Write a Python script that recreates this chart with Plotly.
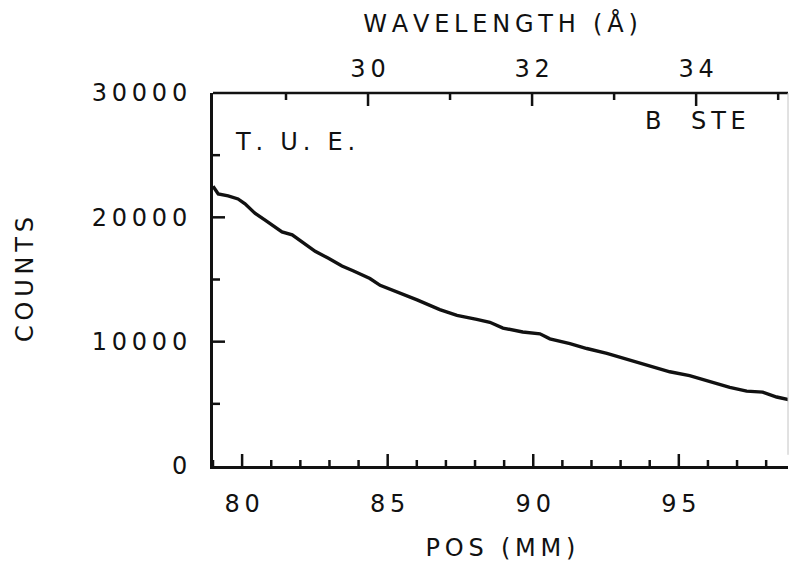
import plotly.graph_objects as go

# Detector scan: counts versus position along the detector (mm)
pos_mm = [79.00, 79.18, 79.52, 79.86, 80.10, 80.45, 80.79, 81.37, 81.72, 82.06,
          82.51, 82.95, 83.43, 83.81, 84.39, 84.74, 85.42, 86.01, 86.79, 87.38,
          88.06, 88.51, 88.96, 89.64, 90.23, 90.57, 91.26, 91.84, 92.53, 93.21,
          93.59, 94.00, 94.69, 95.37, 96.06, 96.75, 97.33, 97.88, 98.36, 98.81]
counts = [22500, 21880, 21720, 21480, 21090, 20310, 19770, 18830, 18590, 18050,
          17270, 16720, 16090, 15700, 15080, 14530, 13910, 13360, 12580, 12110,
          11800, 11560, 11090, 10780, 10630, 10230, 9840, 9450, 9060, 8590,
          8360, 8050, 7580, 7270, 6800, 6330, 6020, 5940, 5550, 5310]

pos_ticks = [80, 85, 90, 95]
pos_minor = [79, 81, 82, 83, 84, 86, 87, 88, 89, 91, 92, 93, 94, 96, 97, 98]
count_ticks = [0, 10000, 20000, 30000]
count_minor = [5000, 15000, 25000]
wavelength_ticks = [30, 32, 34]
wavelength_minor = [29, 31, 33, 35]

pos_range = [79.0, 98.75]
wavelength_range = [28.11, 35.12]
count_range = [0, 30000]

FONT = "DejaVu Sans"
SIZE = 24
INK = "#111111"


def spread(text):
    """Wide plotter-style lettering: thin space between glyphs."""
    return "\u2009".join(text)


def aliases(values):
    return {str(v): spread(str(v)) for v in values}


def x_ticks(values, axis, y_edge, length):
    """Tick strokes on a horizontal edge; length in px (+ up, - down)."""
    return [dict(type="line", xref=axis, yref="y", ysizemode="pixel",
                 yanchor=y_edge, x0=v, x1=v, y0=0, y1=length,
                 line=dict(color=INK, width=2.5)) for v in values]


def y_ticks(values, x_edge, length):
    """Tick strokes on the left edge, pointing into the plot."""
    return [dict(type="line", xref="x", yref="y", xsizemode="pixel",
                 xanchor=x_edge, x0=0, x1=length, y0=v, y1=v,
                 line=dict(color=INK, width=2.5)) for v in values]


fig = go.Figure()
fig.add_trace(go.Scatter(
    x=pos_mm, y=counts, mode="lines",
    line=dict(color=INK, width=3.4),
    showlegend=False, hoverinfo="skip",
))
# scale-only trace that attaches the wavelength axis
fig.add_trace(go.Scatter(
    x=[None], y=[None], mode="lines", xaxis="x2", yaxis="y",
    showlegend=False, hoverinfo="skip",
))

tick_font = dict(family=FONT, size=SIZE, color=INK)
common = dict(showgrid=False, zeroline=False, ticks="", tickmode="linear",
              tickformat="d", tickfont=tick_font)

shapes = []
shapes += x_ticks(pos_ticks, "x", count_range[0], 12)
shapes += x_ticks(pos_minor, "x", count_range[0], 6)
shapes += x_ticks(wavelength_ticks, "x2", count_range[1], -13)
shapes += x_ticks(wavelength_minor, "x2", count_range[1], -7)
shapes += y_ticks(count_ticks[1:-1], pos_range[0], 12)
shapes += y_ticks(count_minor, pos_range[0], 7)
# top frame edge and the faint right edge
shapes.append(dict(type="line", xref="paper", yref="paper", x0=0, x1=1, y0=1, y1=1,
                   line=dict(color=INK, width=2.5)))
shapes.append(dict(type="line", xref="paper", yref="paper", x0=1, x1=1, y0=0.03, y1=1,
                   line=dict(color="#c4c4c4", width=1)))

fig.update_layout(
    width=792, height=562,
    margin=dict(l=213, r=4, t=93, b=84),
    paper_bgcolor="white", plot_bgcolor="white",
    font=dict(family=FONT, color=INK),
    xaxis=dict(
        **common,
        range=pos_range, showline=True, linecolor=INK, linewidth=2.5,
        tick0=pos_ticks[0], dtick=pos_ticks[1] - pos_ticks[0],
        labelalias=aliases(pos_ticks), ticklabelstandoff=14,
        title=dict(text=spread("POS (MM)"), standoff=24, font=tick_font),
    ),
    xaxis2=dict(
        **common,
        overlaying="x", side="top", anchor="y", showline=False,
        range=wavelength_range,
        tick0=wavelength_ticks[0], dtick=wavelength_ticks[1] - wavelength_ticks[0],
        labelalias=aliases(wavelength_ticks), ticklabelstandoff=10,
        title=dict(text=spread("WAVELENGTH (Å)"), standoff=15, font=tick_font),
    ),
    yaxis=dict(
        **common,
        range=count_range, showline=True, linecolor=INK, linewidth=3,
        tick0=count_ticks[0], dtick=count_ticks[1] - count_ticks[0],
        labelalias=aliases(count_ticks), ticklabelstandoff=18,
        title=dict(text=spread("COUNTS"), standoff=52, font=tick_font),
    ),
    annotations=[
        dict(text=spread("T. U. E."), xref="paper", yref="paper",
             x=0.035, y=0.8675, xanchor="left", yanchor="middle",
             showarrow=False, font=tick_font),
        dict(text=spread("B  STE"), xref="paper", yref="paper",
             x=0.748, y=0.925, xanchor="left", yanchor="middle",
             showarrow=False, font=tick_font),
    ],
    shapes=shapes,
)

fig.write_html("out.html")
